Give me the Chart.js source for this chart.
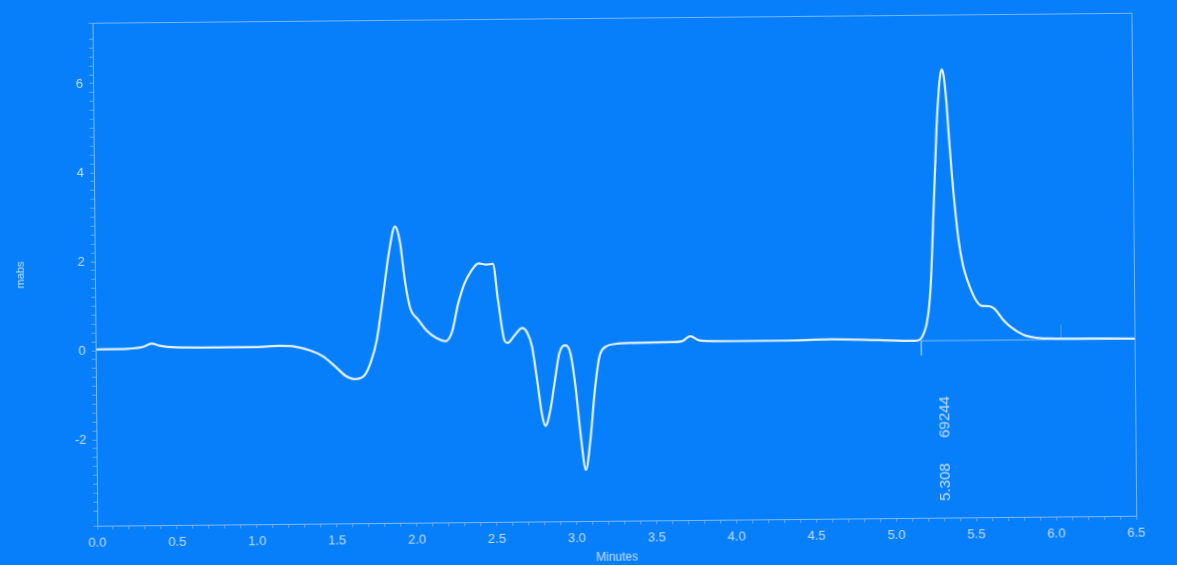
<!DOCTYPE html>
<html>
<head>
<meta charset="utf-8">
<script src="https://cdn.jsdelivr.net/npm/chart.js@4.4.1/dist/chart.umd.min.js"></script>
<style>
  html, body { margin: 0; padding: 0; background: #087ffa; overflow: hidden; }
  #wrap { width: 1177px; height: 565px; }
  canvas { display: block; transform: rotate(-0.55deg); }
</style>
</head>
<body>
<div id="wrap"><canvas id="chrom" width="1177" height="565"></canvas></div>
<script>
// Chromatogram trace: retention time (minutes) and detector signal (mabs)
const minutes = [
  0.00, 0.20, 0.30, 0.35, 0.40, 0.50, 0.80, 1.00, 1.15, 1.25,
  1.35, 1.42, 1.50, 1.56, 1.62, 1.68, 1.72, 1.76, 1.80, 1.84,
  1.88, 1.91, 1.94, 1.97, 2.02, 2.07, 2.13, 2.19, 2.23, 2.27,
  2.31, 2.35, 2.40, 2.45, 2.49, 2.52, 2.56, 2.58, 2.62, 2.67,
  2.70, 2.73, 2.76, 2.79, 2.81, 2.84, 2.87, 2.90, 2.94, 2.97,
  3.00, 3.03, 3.06, 3.09, 3.12, 3.15, 3.19, 3.25, 3.35, 3.60,
  3.67, 3.72, 3.78, 4.00, 4.30, 4.60, 4.90, 5.13, 5.16, 5.18,
  5.20, 5.218, 5.233, 5.248, 5.262, 5.275, 5.288, 5.300, 5.310, 5.322,
  5.337, 5.352, 5.368, 5.385, 5.405, 5.430, 5.462, 5.505, 5.545, 5.590,
  5.625, 5.675, 5.725, 5.805, 5.885, 5.975, 6.20, 6.50
];
const mabs = [
  0.03, 0.04, 0.08, 0.15, 0.10, 0.06, 0.05, 0.05, 0.07, 0.05,
  -0.05, -0.17, -0.41, -0.61, -0.69, -0.61, -0.32, 0.19, 1.13, 2.13,
  2.73, 2.38, 1.48, 0.90, 0.63, 0.39, 0.22, 0.14, 0.34, 0.97,
  1.42, 1.69, 1.88, 1.85, 1.87, 1.06, 0.13, 0.09, 0.25, 0.42,
  0.32, 0.00, -0.75, -1.55, -1.78, -1.45, -0.80, -0.16, 0.02, -0.16,
  -0.91, -2.01, -2.78, -2.11, -1.01, -0.26, -0.02, 0.04, 0.06, 0.07,
  0.09, 0.20, 0.10, 0.08, 0.08, 0.10, 0.07, 0.05, 0.08, 0.20,
  0.42, 0.85, 1.60, 2.80, 3.90, 4.90, 5.60, 6.02, 6.14, 5.98,
  5.40, 4.55, 3.72, 3.00, 2.30, 1.75, 1.35, 0.98, 0.82, 0.81,
  0.75, 0.52, 0.34, 0.16, 0.09, 0.07, 0.06, 0.05
];

// Integration baseline under the main peak, with start / end markers
const baseMinutes = [5.165, 6.50];
const baseMabs = [0.045, 0.045];
const startMarkMinutes = [5.165, 5.165];
const startMarkMabs = [0.045, -0.28];
const endMarkMinutes = [6.04, 6.04];
const endMarkMabs = [0.045, 0.38];

// Peak report
const peakTime = 5.308;
const peakArea = 69244;

// Axis tick labels
const xMajorTicks = [0.0, 0.5, 1.0, 1.5, 2.0, 2.5, 3.0, 3.5, 4.0, 4.5, 5.0, 5.5, 6.0, 6.5];
const yMajorTicks = [-2, 0, 2, 4, 6];

const toPoints = (xs, ys) => xs.map((x, i) => ({ x: x, y: ys[i] }));

const axisColor = 'rgba(120, 185, 255, 0.95)';
const textColor = 'rgba(205, 228, 255, 0.92)';
const traceColor = '#e2f1ff';

const isMajor = (v, list) => list.some(t => Math.abs(t - v) < 1e-6);

const framePlugin = {
  id: 'frameAndPeakLabels',
  afterDraw(chart) {
    const { ctx, chartArea: a, scales: { x, y } } = chart;
    ctx.save();
    // plot frame
    ctx.strokeStyle = axisColor;
    ctx.lineWidth = 1;
    ctx.strokeRect(Math.round(a.left) + 0.5, Math.round(a.top) + 0.5,
                   Math.round(a.right - a.left), Math.round(a.bottom - a.top));
    // peak annotations (area and retention time), written vertically
    ctx.fillStyle = textColor;
    ctx.font = '15px "Liberation Sans", Arial, sans-serif';
    ctx.textAlign = 'center';
    ctx.textBaseline = 'middle';
    const px = x.getPixelForValue(peakTime);
    [[String(peakArea), -1.67], [peakTime.toFixed(3), -3.13]].forEach(([txt, at]) => {
      ctx.save();
      ctx.translate(px, y.getPixelForValue(at));
      ctx.rotate(-Math.PI / 2);
      ctx.fillText(txt, 0, 0);
      ctx.restore();
    });
    ctx.restore();
  }
};

new Chart(document.getElementById('chrom'), {
  type: 'line',
  data: {
    datasets: [
      {
        data: toPoints(minutes, mabs),
        borderColor: traceColor,
        borderWidth: 2.2,
        pointRadius: 0,
        cubicInterpolationMode: 'monotone',
        fill: false
      },
      {
        data: toPoints(baseMinutes, baseMabs),
        borderColor: 'rgba(200, 225, 255, 0.6)',
        borderWidth: 1,
        pointRadius: 0,
        fill: false
      },
      {
        data: toPoints(startMarkMinutes, startMarkMabs),
        borderColor: 'rgba(200, 225, 255, 0.55)',
        borderWidth: 1,
        pointRadius: 0,
        fill: false
      },
      {
        data: toPoints(endMarkMinutes, endMarkMabs),
        borderColor: 'rgba(200, 225, 255, 0.35)',
        borderWidth: 1,
        pointRadius: 0,
        fill: false
      }
    ]
  },
  options: {
    responsive: false,
    animation: false,
    devicePixelRatio: 1,
    layout: { padding: { top: 18, right: 43, left: 0, bottom: 0 } },
    plugins: { legend: { display: false }, tooltip: { enabled: false } },
    scales: {
      x: {
        type: 'linear',
        min: 0,
        max: 6.5,
        afterFit(scale) { scale.height = 44; },
        border: { display: true, color: axisColor, width: 1 },
        grid: { drawOnChartArea: false, drawTicks: true, tickLength: 4, tickColor: 'rgba(120, 185, 255, 0.7)' },
        ticks: {
          stepSize: 0.1,
          autoSkip: false,
          maxRotation: 0,
          padding: 6,
          color: textColor,
          font: { family: '"Liberation Sans", Arial, sans-serif', size: 13 },
          callback: (v) => isMajor(v, xMajorTicks) ? Number(v).toFixed(1) : ''
        },
        title: {
          display: true,
          text: 'Minutes',
          color: textColor,
          padding: { top: 0, bottom: 0 },
          font: { family: '"Liberation Sans", Arial, sans-serif', size: 12 }
        }
      },
      y: {
        type: 'linear',
        min: -3.93,
        max: 7.37,
        afterFit(scale) { scale.width = 95; },
        border: { display: true, color: axisColor, width: 1 },
        grid: { drawOnChartArea: false, drawTicks: true, tickLength: 4, tickColor: 'rgba(120, 185, 255, 0.7)' },
        ticks: {
          stepSize: 0.2,
          autoSkip: false,
          padding: 6,
          color: textColor,
          font: { family: '"Liberation Sans", Arial, sans-serif', size: 13 },
          callback: (v) => isMajor(v, yMajorTicks) ? String(Math.round(v)) : ''
        },
        title: {
          display: true,
          text: 'mabs',
          color: textColor,
          padding: { top: 14, bottom: 0 },
          font: { family: '"Liberation Sans", Arial, sans-serif', size: 11 }
        }
      }
    }
  },
  plugins: [framePlugin]
});
</script>
</body>
</html>
